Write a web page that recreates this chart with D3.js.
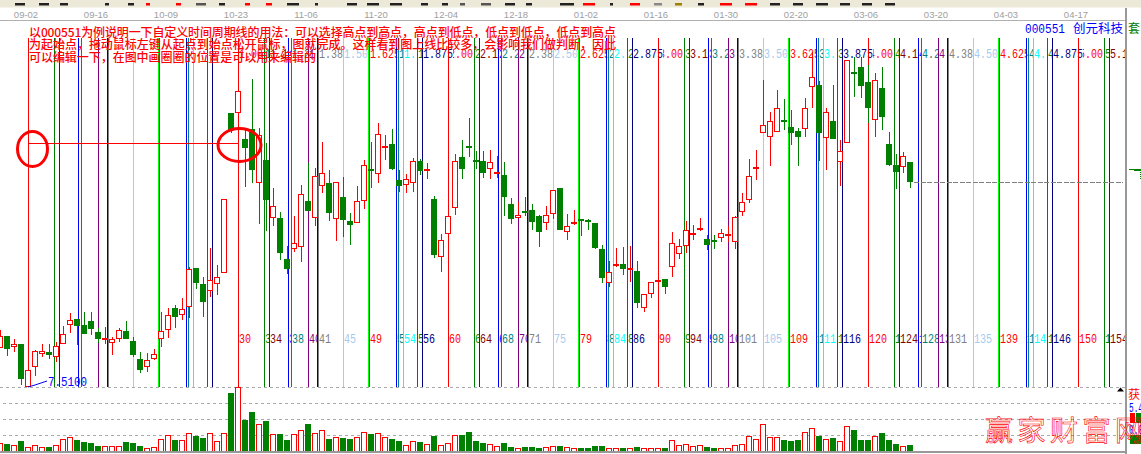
<!DOCTYPE html>
<html><head><meta charset="utf-8">
<script src="https://cdnjs.cloudflare.com/ajax/libs/d3/7.8.5/d3.min.js"></script>
<style>html,body{margin:0;padding:0;background:#fff;overflow:hidden}svg{display:block}</style>
</head><body><div id="chart"></div>
<script>
// Candle values, in chart height units (no price axis is printed).
const open = [52,64,53,56,13,33,46,48,43,56,75,81,75,79,68,61,57,61,69,59,41,33,41,61,70,92,85,93,132,116,109,116,127,287,287,261,271,217,240,182,182,141,151,153,199,182,214,217,181,203,179,177,199,231,226,253,256,220,215,217,239,230,201,143,166,192,243,254,240,239,231,227,225,196,182,189,190,184,177,186,212,168,177,181,180,177,151,117,135,136,130,129,92,106,118,121,133,146,154,165,171,161,160,162,165,158,188,200,232,267,263,268,280,273,269,271,313,315,262,279,238,257,328,333,318,280,312,256,235,233,238];
const close = [64,51,56,21,30,49,49,45,54,66,80,74,66,71,61,61,61,70,61,45,30,40,46,69,85,83,91,131,117,98,120,123,201,270,309,252,230,265,200,194,147,131,157,206,189,224,227,187,218,180,175,199,235,229,266,253,231,214,221,239,229,230,145,160,184,239,231,252,238,227,238,227,203,181,185,187,178,168,185,210,170,174,177,179,178,152,122,128,135,131,132,97,106,118,120,113,157,154,170,167,171,155,158,167,165,183,198,224,232,275,279,292,278,267,263,292,323,267,288,261,249,340,326,314,292,320,283,235,228,244,218];
const high = [70,64,61,56,30,50,56,56,58,74,87,81,88,88,72,73,63,72,79,63,48,47,51,88,92,95,102,133,132,123,152,135,201,287,309,270,321,272,257,212,188,154,184,215,237,232,258,230,218,223,187,214,240,258,277,265,271,230,226,242,241,237,204,166,184,246,260,282,249,249,250,244,238,202,198,203,196,185,194,210,212,186,190,181,181,177,155,139,152,153,154,139,106,118,123,121,168,161,179,175,182,165,165,171,174,184,207,241,250,320,288,310,301,290,272,302,348,319,292,315,260,340,343,343,335,327,333,268,246,248,238];
const low = [52,44,48,15,13,24,43,41,38,56,67,55,66,65,57,56,45,58,61,43,27,28,40,53,62,72,80,82,111,83,103,105,127,267,287,213,217,176,169,174,140,126,148,138,189,174,207,179,159,163,155,177,191,212,217,240,230,208,207,208,225,221,142,128,166,185,221,243,231,222,221,222,184,176,182,184,170,153,170,181,170,160,175,164,170,151,117,113,133,125,118,92,88,102,118,106,123,141,147,160,169,150,151,158,158,151,184,197,220,267,234,268,270,255,234,263,292,239,230,261,214,257,303,302,277,263,270,234,211,227,212];
const volume = [8,7,6,10,4,6,4,4,6,12,14,11,9,8,5,5,5,5,9,8,5,3,4,12,16,11,11,18,15,13,18,10,18,58,64,31,39,27,30,17,17,11,17,21,27,18,21,12,14,13,12,14,19,17,18,14,12,10,6,10,9,7,15,6,8,16,16,19,10,8,7,5,8,4,3,4,4,3,4,5,5,4,3,3,3,5,5,3,3,3,3,4,3,3,3,3,11,6,7,5,6,4,3,3,3,6,7,15,12,27,14,14,11,10,11,19,23,15,12,13,10,25,21,11,11,15,18,11,7,5,6];
const firstIndex = -4;
const volumeTicks = [0,16,32,48,64];

// Time-cycle lines: fractions of one base cycle of 30 bars, in drawing order.
const cycleRatios = [0.125,0.146,0.236,0.25,0.333,0.376,0.382,0.5,0.618,0.625,0.75,0.764,0.786,0.854,1,0.875];
const cycleColors = ["#008000","#800000","#0000ff","#008080","#800080","#000080","#808080","#a6caf0","#00ff00","#ff0000","#0000ff","#008080","#00ffff","#008000","#ff0000","#000080"];
const cycleSuffix = [".125",".146",".236",".25",".333",".376",".38",".50",".618",".625",".75",".764",".786",".854",".00",".875"];
const baseCycle = 30;
const cycleCount = 6;

const dateLabels = ["09-02","09-16","10-09","10-23","11-06","11-20","12-04","12-18","01-02","01-16","01-30","02-20","03-06","03-20","04-03","04-17"];
const noteLines = [
  "以000551为例说明一下自定义时间周期线的用法：可以选择高点到高点，高点到低点，低点到低点，低点到高点",
  "为起始点，拖动鼠标左键从起点到始点松开鼠标，图就完成。这样看到图上线比较多，会影响我们做判断，因此",
  "可以编辑一下，在图中画圈圈的位置是可以用来编辑的"
];
const stockCode = "000551";
const stockName = "创元科技";
const lowLabel = "7.5100";
const watermark = "赢家财富网";

const W = 1141, H = 454, panelX = 1125;
const svg = d3.select("#chart").append("svg").attr("width",W).attr("height",H).attr("viewBox",`0 0 ${W} ${H}`);
const RED="#ff0000", GREEN="#008000", BLUE="#0000ff";
const cjk = "'Noto Sans CJK SC','Noto Sans',sans-serif";
const mono = "'Liberation Mono','DejaVu Sans Mono',monospace";

const x = d3.scaleLinear().domain([0,10]).range([28,98]);
const y = d3.scaleLinear().domain([0,400]).range([400,0]);
const yVol = d3.scaleLinear().domain([0,64]).range([451,387]);
const candles = open.map((o,i)=>({n:i+firstIndex,o,c:close[i],h:high[i],l:low[i],v:volume[i],up:close[i]>=o}));

const px = v => Math.round(v)+0.5;

// chrome
svg.append("rect").attr("width",W).attr("height",7.5).attr("fill","#ece9d8");
const toolbarMarks = [[15,10,"#222"],[39,10,"#222"],[60,8,"#222"],[105,4,"#222"],[128,6,"#222"],[146,4,RED],[176,5,RED],[196,10,"#555"],[219,6,"#222"],[245,5,RED],[266,6,RED],[287,12,"#222"],[315,3,"#222"],[347,10,"#222"],[367,12,"#222"],[390,12,"#222"],[421,7,"#222"],[442,6,"#222"],[460,5,"#555"],[481,10,"#555"],[505,10,"#222"],[526,6,"#222"],[560,14,"#222"],[583,12,RED],[610,3,"#222"],[630,10,RED],[654,8,"#888"],[675,7,"#a08000"],[698,6,"#222"],[720,12,RED],[745,12,RED],[770,10,"#222"],[793,10,"#222"],[816,12,"#222"],[840,10,"#222"],[862,10,"#222"],[885,10,"#222"]];
svg.append("g").selectAll("rect").data(toolbarMarks).join("rect")
  .attr("x",d=>d[0]).attr("y",3).attr("width",d=>d[1]).attr("height",2.5).attr("fill",d=>d[2]);
svg.append("rect").attr("x",0).attr("y",20).attr("width",panelX).attr("height",1).attr("fill","#b0b0b0");
svg.append("g").selectAll("text").data(dateLabels).join("text")
  .attr("x",(d,i)=>x(i*10)-2).attr("y",17.5).attr("text-anchor","middle")
  .attr("font-family","'Liberation Sans',sans-serif").attr("font-size",9.5).attr("fill","#a0a0a0").text(d=>d);

// cycle data
const cycles = [];
for(let k=0;k<cycleCount;k++){
  cycleRatios.forEach((r,i)=>{
    const ratio=k+r;
    if(ratio>5.15) return;
    const whole = r===1 ? k+1 : k;
    cycles.push({ratio,color:cycleColors[i],top:whole+cycleSuffix[i],bottom:String(Math.round(ratio*baseCycle)),n:ratio*baseCycle});
  });
}
const labelled = cycles.filter(d=>d.ratio>=1);
const labelRow = (cls,yMid,fn)=>{
  const g = svg.append("g").attr("class",cls);
  labelled.forEach(d=>{
    const t = fn(d), lx = px(x(d.n))+0.5;
    g.append("rect").attr("x",lx).attr("y",yMid-6).attr("width",t.length*6).attr("height",12).attr("fill","#fff");
    g.append("text").attr("x",lx).attr("y",yMid+4.5).attr("font-family",mono).attr("font-size",13.5)
      .attr("textLength",t.length*6).attr("lengthAdjust","spacingAndGlyphs").attr("fill",d.color).text(t);
  });
};
labelRow("top-labels",53.5,d=>d.top);
labelRow("bottom-labels",338,d=>d.bottom);

// cycle lines
const linesG = svg.append("g").attr("shape-rendering","crispEdges");
linesG.append("line").attr("x1",px(x(0))).attr("x2",px(x(0))).attr("y1",38).attr("y2",387).attr("stroke",RED);
linesG.selectAll("line.c").data(cycles).join("line").attr("class","c")
  .attr("x1",d=>px(x(d.n))).attr("x2",d=>px(x(d.n))).attr("y1",38).attr("y2",387).attr("stroke",d=>d.color);

// volume grid
svg.append("g").selectAll("line").data(volumeTicks.slice(1)).join("line")
  .attr("x1",d=>d===64?0:3).attr("x2",panelX).attr("y1",d=>Math.round(yVol(d))+0.5).attr("y2",d=>Math.round(yVol(d))+0.5)
  .attr("stroke","#aaaaaa").attr("stroke-dasharray","3 3").attr("shape-rendering","crispEdges");

// last-price dashed line
svg.append("line").attr("x1",914).attr("x2",1123).attr("y1",182.5).attr("y2",182.5)
  .attr("stroke","#808080").attr("stroke-dasharray","5 1.5").attr("shape-rendering","crispEdges");

// candles
const cg = svg.append("g").attr("shape-rendering","crispEdges");
const cand = cg.selectAll("g").data(candles).join("g");
cand.append("line").attr("x1",d=>x(d.n)+0.5).attr("x2",d=>x(d.n)+0.5).attr("y1",d=>y(d.h)).attr("y2",d=>y(d.l))
  .attr("stroke",d=>d.up?RED:GREEN);
cand.filter(d=>!d.up).append("rect").attr("x",d=>x(d.n)-3).attr("width",6)
  .attr("y",d=>y(d.o)).attr("height",d=>y(d.c)-y(d.o)).attr("fill",GREEN);
cand.filter(d=>d.up&&d.c>d.o).append("rect").attr("x",d=>x(d.n)-2.5).attr("width",5)
  .attr("y",d=>y(d.c)+0.5).attr("height",d=>y(d.o)-y(d.c)-1).attr("fill","#fff").attr("stroke",RED);
cand.filter(d=>d.up&&d.c===d.o).append("rect").attr("x",d=>x(d.n)-3).attr("width",6)
  .attr("y",d=>y(d.c)-1).attr("height",2).attr("fill",RED);

// volume
const vg = svg.append("g").attr("shape-rendering","crispEdges");
vg.selectAll("rect").data(candles).join("rect")
  .attr("x",d=>d.up?x(d.n)-2.5:x(d.n)-3).attr("width",d=>d.up?5:6)
  .attr("y",d=>d.up?yVol(d.v)+0.5:yVol(d.v)).attr("height",d=>d.up?yVol(0)-yVol(d.v)-0.5:yVol(0)-yVol(d.v))
  .attr("fill",d=>d.up?"#fff":GREEN).attr("stroke",d=>d.up?RED:"none");
svg.append("rect").attr("x",0).attr("y",451).attr("width",panelX+2).attr("height",2).attr("fill","#999");

// low marker
svg.append("path").attr("d",d3.line()([[x(0),387],[x(1),385],[x(2)+5,381]])).attr("fill","none").attr("stroke",BLUE);
svg.append("text").attr("x",48).attr("y",385.5).attr("font-family",mono).attr("font-size",13.5)
  .attr("textLength",39).attr("lengthAdjust","spacingAndGlyphs").attr("fill",BLUE).text(lowLabel);

// annotations
svg.append("line").attr("x1",x(0)).attr("x2",x(30)).attr("y1",143.5).attr("y2",143.5).attr("stroke",RED).attr("shape-rendering","crispEdges");
svg.append("ellipse").attr("cx",32.5).attr("cy",149).attr("rx",15).attr("ry",17.5).attr("fill","none").attr("stroke",RED).attr("stroke-width",3);
svg.append("ellipse").attr("cx",239.5).attr("cy",145).attr("rx",21.5).attr("ry",16.5).attr("fill","none").attr("stroke",RED).attr("stroke-width",3);

const noteW=[587,587,287];
svg.append("g").selectAll("text").data(noteLines).join("text")
  .attr("x",29).attr("y",(d,i)=>36.5+i*12.5).attr("font-family",cjk).attr("font-size",12).attr("font-weight",500).attr("fill",RED)
  .attr("textLength",(d,i)=>noteW[i]).attr("lengthAdjust","spacing").text(d=>d);

// right panel
svg.append("rect").attr("x",panelX).attr("y",8).attr("width",W-panelX).attr("height",H-8).attr("fill","#fff");
svg.append("rect").attr("x",panelX).attr("y",8).attr("width",2).attr("height",H-8).attr("fill","#999");
svg.append("text").attr("x",1025).attr("y",33).attr("font-family",mono).attr("font-size",13.5)
  .attr("textLength",40).attr("lengthAdjust","spacingAndGlyphs").attr("fill",BLUE).text(stockCode);
svg.append("text").attr("x",1073).attr("y",33).attr("font-family",cjk).attr("font-size",12.5).attr("fill",BLUE).text(stockName);
svg.append("text").attr("x",1128).attr("y",33).attr("font-family",cjk).attr("font-size",12).attr("fill",GREEN).text("套");
svg.append("path").attr("d","M1129 169.5H1141M1134 170.5H1141").attr("stroke",GREEN).attr("fill","none");
svg.append("path").attr("d","M1140.5 172V179").attr("stroke",GREEN).attr("stroke-dasharray","1 1").attr("fill","none");
svg.append("path").attr("d","M1117 391.5l3.5 -4l3.5 4z").attr("fill","#000");
svg.append("text").attr("x",1128).attr("y",399).attr("font-family",cjk).attr("font-size",12).attr("fill",RED).text("获");
svg.append("rect").attr("x",1130).attr("y",413).attr("width",5).attr("height",10).attr("fill",RED);
svg.append("rect").attr("x",1136).attr("y",413).attr("width",5).attr("height",10).attr("fill",GREEN);
svg.append("rect").attr("x",1130).attr("y",435).attr("width",11).attr("height",9).attr("fill",GREEN);
svg.append("text").attr("x",1129).attr("y",412).attr("font-family",mono).attr("font-size",12.5).attr("textLength",14).attr("lengthAdjust","spacingAndGlyphs").attr("fill",BLUE).text("5.4");
svg.append("text").attr("x",1129).attr("y",433.5).attr("font-family",mono).attr("font-size",12.5).attr("textLength",14).attr("lengthAdjust","spacingAndGlyphs").attr("fill",BLUE).text("0.0");

// watermark
svg.append("text").attr("x",985).attr("y",441).attr("font-family","'Noto Sans CJK SC',sans-serif").attr("font-size",28).attr("letter-spacing",4.5)
  .attr("fill","none").attr("stroke",RED).attr("stroke-width",0.6).text(watermark);
</script></body></html>
